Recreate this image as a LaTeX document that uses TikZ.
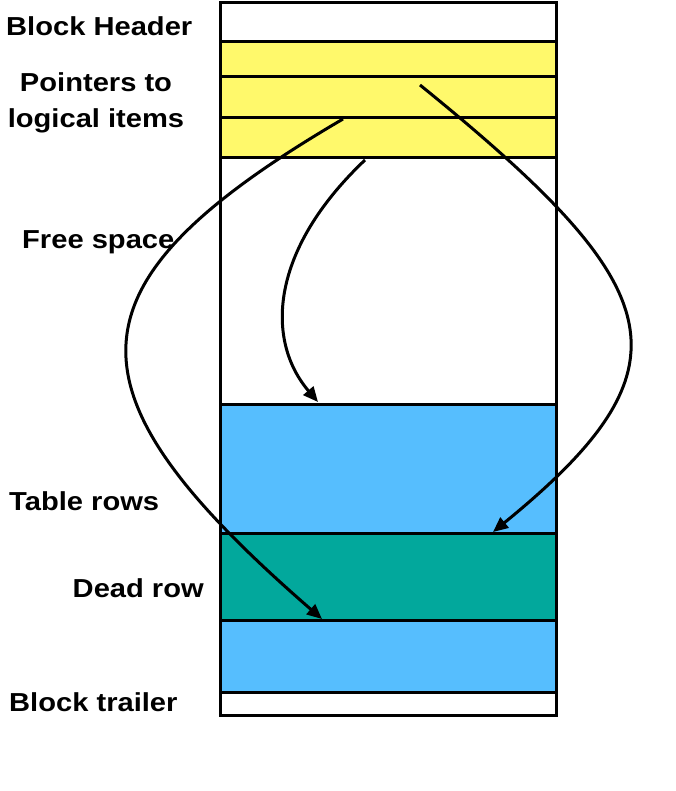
\documentclass[tikz,border=0pt]{standalone}
\usepackage{fontspec}
\setmainfont{Liberation Sans}[FakeStretch=1.12]
\usetikzlibrary{arrows.meta}
\definecolor{ptryellow}{HTML}{FFF96B}
\definecolor{rowblue}{HTML}{56BEFE}
\definecolor{deadteal}{HTML}{02A89C}

\begin{document}
\begin{tikzpicture}[x=1pt,y=-1pt,
  lbl/.style={font=\fontsize{26}{36}\selectfont\bfseries,inner sep=0pt},
  band/.style={draw=black,line width=3pt},
  ptr/.style={line width=3pt,-{Triangle[length=15pt,width=13pt]}}]
  \useasboundingbox (0,0) rectangle (676,791);
  % bands of the block, top to bottom
  \foreach \t/\b/\c in {3/42/white, 42/77/ptryellow, 77/118/ptryellow,
    118/158/ptryellow, 158/404/white, 404/533/rowblue, 533/620/deadteal,
    620/692/rowblue, 692/715/white}
    {\draw[band,fill=\c] (220,\t) rectangle (556,\b);}
  % labels
  \node[lbl,anchor=base west] (hdr) at (6,36) {Block Header};
  \node[lbl,align=center,anchor=base] (ptrs) at (96,128) {Pointers to\\logical items};
  \node[lbl,anchor=base west] (free) at (22,248) {Free space};
  \node[lbl,anchor=base west] (rows) at (9,510) {Table rows};
  \node[lbl,anchor=base east] (dead) at (204,597) {Dead row};
  \node[lbl,anchor=base west] (trail) at (9,711) {Block trailer};
  % pointer ends
  \coordinate (pa) at (420,85);
  \coordinate (pb) at (343,119);
  \coordinate (pc) at (365,160);
  \coordinate (ra) at (493,532);
  \coordinate (rb) at (322,619);
  \coordinate (rc) at (318,402);
  \draw[ptr] (pa) .. controls (670,288) and (698,365) .. (ra);
  \draw[ptr] (pb) .. controls (61,284) and (57,389) .. (rb);
  \draw[ptr] (pc) .. controls (270,250) and (265,340) .. (rc);
\end{tikzpicture}
\end{document}
